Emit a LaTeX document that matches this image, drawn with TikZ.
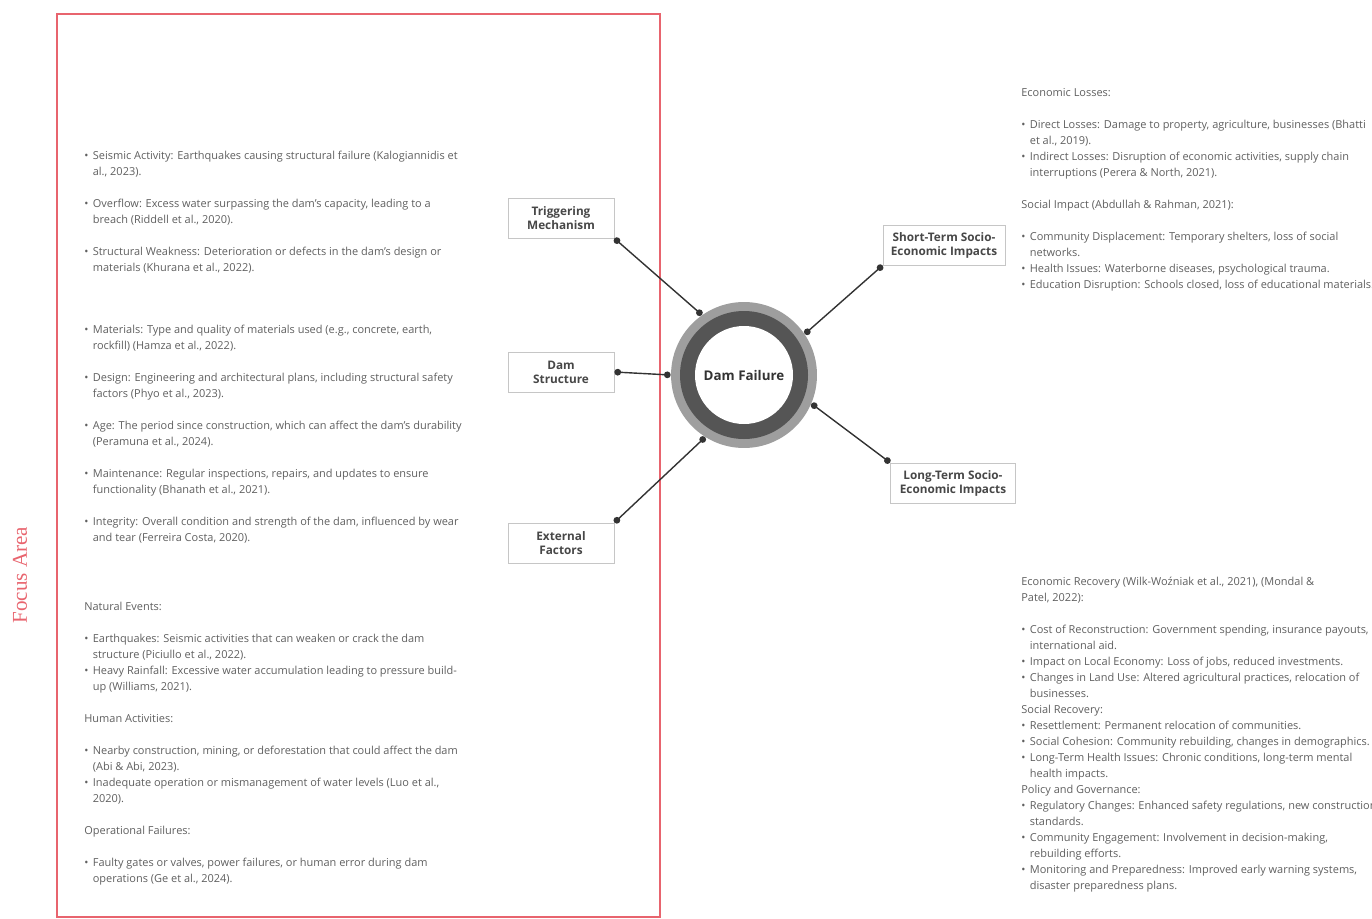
\documentclass[tikz,border=0pt]{standalone}
\usepackage{fontspec}
\setmainfont{Open Sans}
\newfontfamily\focusfont{Liberation Serif}
\usetikzlibrary{arrows.meta}
\definecolor{txtgray}{RGB}{95,95,95}
\definecolor{framered}{RGB}{232,100,110}
\definecolor{ringlight}{RGB}{158,158,158}
\definecolor{ringdark}{RGB}{85,85,85}
\newcommand{\bl}{\makebox[0.17cm][l]{\textbullet}}
\newcommand{\ind}{\hspace*{0.17cm}}

\begin{document}
\begin{tikzpicture}[
    x=0.02cm, y=-0.02cm,
    txt/.style={anchor=north west, inner sep=0pt, align=left, text=txtgray,
                font=\fontsize{6.25}{9.1}\selectfont},
    box/.style={draw=gray!45, line width=0.5pt, fill=white, minimum width=2.12cm,
                minimum height=0.8cm, align=center, inner sep=1pt, text=black!72,
                font=\fontsize{6.7}{8}\selectfont\bfseries},
    hub/.style={circle, fill=ringlight, minimum size=2.92cm, inner sep=0pt,
                text=black!80, font=\fontsize{7.6}{9}\selectfont\bfseries,
                path picture={
                  \fill[ringdark] (path picture bounding box.center) circle[radius=64];
                  \fill[white] (path picture bounding box.center) circle[radius=49];}},
    link/.style={{Circle[length=3.8pt]}-{Circle[length=3.8pt]}, line width=0.8pt, draw=black!80},
  ]
  \useasboundingbox (0,0) rectangle (1372,919);

  % Focus area
  \draw[framered, line width=1pt] (57,14) rectangle (660,917);
  \node[rotate=90, text=framered, font=\focusfont\fontsize{12}{14}\selectfont] (focus) at (20,575) {Focus Area};

  % Left column
  \node[txt] (trigtxt) at (84,150.5) {%
    \bl Seismic Activity: Earthquakes causing structural failure (Kalogiannidis et\\
    \ind al., 2023).\\ ~\\
    \bl Overflow: Excess water surpassing the dam's capacity, leading to a\\
    \ind breach (Riddell et al., 2020).\\ ~\\
    \bl Structural Weakness: Deterioration or defects in the dam's design or\\
    \ind materials (Khurana et al., 2022).};

  \node[txt] (structtxt) at (84,324.5) {%
    \bl Materials: Type and quality of materials used (e.g., concrete, earth,\\
    \ind rockfill) (Hamza et al., 2022).\\ ~\\
    \bl Design: Engineering and architectural plans, including structural safety\\
    \ind factors (Phyo et al., 2023).\\ ~\\
    \bl Age: The period since construction, which can affect the dam's durability\\
    \ind (Peramuna et al., 2024).\\ ~\\
    \bl Maintenance: Regular inspections, repairs, and updates to ensure\\
    \ind functionality (Bhanath et al., 2021).\\ ~\\
    \bl Integrity: Overall condition and strength of the dam, influenced by wear\\
    \ind and tear (Ferreira Costa, 2020).};

  \node[txt] (exttxt) at (84,601.5) {%
    Natural Events:\\ ~\\
    \bl Earthquakes: Seismic activities that can weaken or crack the dam\\
    \ind structure (Piciullo et al., 2022).\\
    \bl Heavy Rainfall: Excessive water accumulation leading to pressure build-\\
    \ind up (Williams, 2021).\\ ~\\
    Human Activities:\\ ~\\
    \bl Nearby construction, mining, or deforestation that could affect the dam\\
    \ind (Abi \& Abi, 2023).\\
    \bl Inadequate operation or mismanagement of water levels (Luo et al.,\\
    \ind 2020).\\ ~\\
    Operational Failures:\\ ~\\
    \bl Faulty gates or valves, power failures, or human error during dam\\
    \ind operations (Ge et al., 2024).};

  % Boxes
  \node[box] (tm) at (561,218) {Triggering\\Mechanism};
  \node[box] (ds) at (561,372) {Dam\\Structure};
  \node[box] (ef) at (561,543) {External\\Factors};
  \node[box, minimum width=2.44cm] (st) at (944,245) {Short-Term Socio-\\Economic Impacts};
  \node[box, minimum width=2.5cm] (lt) at (953,483) {Long-Term Socio-\\Economic Impacts};

  % Hub
  \node[hub] (df) at (744,375) {Dam Failure};

  \draw[link] (tm.south east) -- (df.125);
  \draw[link] (ds.east) -- (df.180);
  \draw[link] (ef.north east) -- (df.238);
  \draw[link] (st.south west) -- (df.34);
  \draw[link] (lt.north west) -- (df.337);

  % Right column
  \node[txt] (shorttxt) at (1021,88.5) {%
    Economic Losses:\\ ~\\
    \bl Direct Losses: Damage to property, agriculture, businesses (Bhatti\\
    \ind et al., 2019).\\
    \bl Indirect Losses: Disruption of economic activities, supply chain\\
    \ind interruptions (Perera \& North, 2021).\\ ~\\
    Social Impact (Abdullah \& Rahman, 2021):\\ ~\\
    \bl Community Displacement: Temporary shelters, loss of social\\
    \ind networks.\\
    \bl Health Issues: Waterborne diseases, psychological trauma.\\
    \bl Education Disruption: Schools closed, loss of educational materials.};

  \node[txt] (longtxt) at (1021,576.5) {%
    Economic Recovery (Wilk-Woźniak et al., 2021), (Mondal \&\\
    Patel, 2022):\\ ~\\
    \bl Cost of Reconstruction: Government spending, insurance payouts,\\
    \ind international aid.\\
    \bl Impact on Local Economy: Loss of jobs, reduced investments.\\
    \bl Changes in Land Use: Altered agricultural practices, relocation of\\
    \ind businesses.\\
    Social Recovery:\\
    \bl Resettlement: Permanent relocation of communities.\\
    \bl Social Cohesion: Community rebuilding, changes in demographics.\\
    \bl Long-Term Health Issues: Chronic conditions, long-term mental\\
    \ind health impacts.\\
    Policy and Governance:\\
    \bl Regulatory Changes: Enhanced safety regulations, new construction\\
    \ind standards.\\
    \bl Community Engagement: Involvement in decision-making,\\
    \ind rebuilding efforts.\\
    \bl Monitoring and Preparedness: Improved early warning systems,\\
    \ind disaster preparedness plans.};
\end{tikzpicture}
\end{document}
